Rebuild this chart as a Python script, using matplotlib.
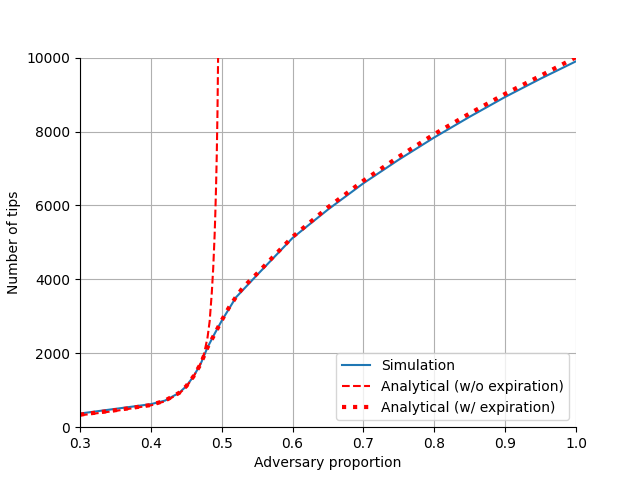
import numpy as np
import matplotlib
matplotlib.use('Agg')
import matplotlib.pyplot as plt

# Simulation results
sim_x = [0.30, 0.40, 0.42, 0.44, 0.45, 0.46, 0.47, 0.48, 0.49, 0.50, 0.52,
         0.55, 0.60, 0.65, 0.70, 0.75, 0.80, 0.85, 0.90, 0.95, 1.00]
sim_y = [370, 623, 720, 930, 1110, 1370, 1700, 2160, 2530, 2880, 3510,
         4120, 5120, 5890, 6600, 7240, 7840, 8400, 8935, 9430, 9900]

# Analytical model without expiration (blows up near 0.5)
noexp_x = [0.30, 0.35, 0.40, 0.42, 0.44, 0.45, 0.46, 0.47, 0.475, 0.48,
           0.483, 0.486, 0.488, 0.490, 0.491, 0.492, 0.493, 0.494, 0.495, 0.496]
noexp_y = [320, 440, 590, 700, 910, 1090, 1360, 1720, 1980, 2430,
           2870, 3640, 4300, 5200, 5800, 6500, 7350, 8500, 10200, 13000]

# Analytical model with expiration
exp_x = [0.30, 0.35, 0.40, 0.42, 0.44, 0.45, 0.46, 0.47, 0.48, 0.49, 0.50,
         0.51, 0.52, 0.53, 0.55, 0.57, 0.60, 0.65, 0.70, 0.75, 0.80, 0.85,
         0.90, 0.95, 1.00]
exp_y = [340, 460, 600, 720, 930, 1110, 1370, 1700, 2160, 2520, 2890,
         3230, 3520, 3780, 4160, 4560, 5150, 5950, 6670, 7320, 7930, 8490,
         9020, 9510, 10010]

fig, ax = plt.subplots(figsize=(6.4, 4.8))
ax.plot(sim_x, sim_y, label='Simulation')
ax.plot(noexp_x, noexp_y, 'r--', label='Analytical (w/o expiration)')
ax.plot(exp_x, exp_y, 'r:', linewidth=3, label='Analytical (w/ expiration)')

ax.set_xlim(0.3, 1.0)
ax.set_ylim(0, 10000)
ax.set_xlabel('Adversary proportion')
ax.set_ylabel('Number of tips')
ax.grid(True)
ax.spines['top'].set_visible(False)
ax.spines['right'].set_visible(False)
ax.legend(loc='lower right')

fig.savefig('out.png', dpi=100)
